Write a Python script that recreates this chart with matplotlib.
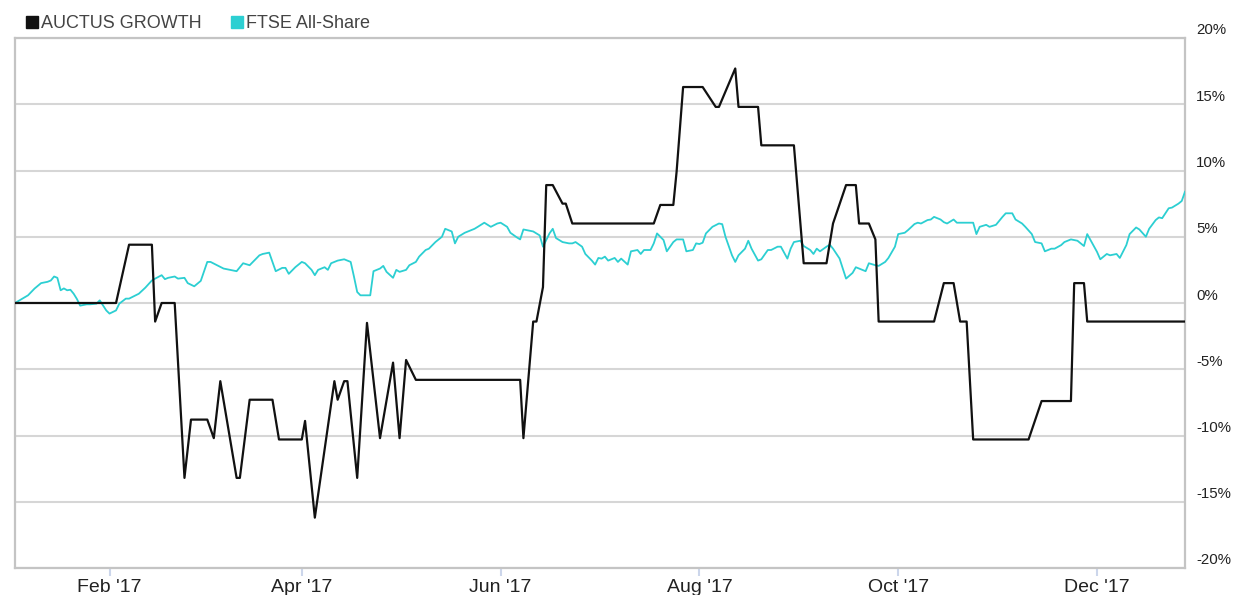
import matplotlib
matplotlib.use('Agg')
import matplotlib.pyplot as plt
import matplotlib.transforms as mtransforms
from matplotlib.lines import Line2D
import pandas as pd

# AUCTUS GROWTH, % change (turning points of the line)
auctus_dates = [
    '2017-01-03', '2017-02-03', '2017-02-07', '2017-02-14', '2017-02-15', '2017-02-17',
    '2017-02-21', '2017-02-24', '2017-02-26', '2017-03-03', '2017-03-05', '2017-03-07',
    '2017-03-12', '2017-03-13', '2017-03-16', '2017-03-23', '2017-03-25', '2017-04-01',
    '2017-04-02', '2017-04-05', '2017-04-11', '2017-04-12', '2017-04-14', '2017-04-15',
    '2017-04-18', '2017-04-21', '2017-04-25', '2017-04-29', '2017-05-01', '2017-05-03',
    '2017-05-06', '2017-06-07', '2017-06-08', '2017-06-11', '2017-06-12', '2017-06-14',
    '2017-06-15', '2017-06-17', '2017-06-20', '2017-06-21', '2017-06-23', '2017-07-18',
    '2017-07-20', '2017-07-24', '2017-07-25', '2017-07-27', '2017-08-02', '2017-08-06',
    '2017-08-07', '2017-08-12', '2017-08-13', '2017-08-19', '2017-08-20', '2017-08-30',
    '2017-09-02', '2017-09-09', '2017-09-11', '2017-09-15', '2017-09-18', '2017-09-19',
    '2017-09-22', '2017-09-24', '2017-09-25', '2017-10-12', '2017-10-15', '2017-10-18',
    '2017-10-20', '2017-10-22', '2017-10-24', '2017-11-10', '2017-11-14', '2017-11-23',
    '2017-11-24', '2017-11-27', '2017-11-28', '2017-12-28',
]
auctus_pct = [
    0.0, 0.0, 4.4, 4.4, -1.4, 0.0,
    0.0, -13.2, -8.8, -8.8, -10.2, -5.9,
    -13.2, -13.2, -7.3, -7.3, -10.3, -10.3,
    -8.9, -16.2, -5.9, -7.3, -5.9, -5.9,
    -13.2, -1.5, -10.2, -4.5, -10.2, -4.3,
    -5.8, -5.8, -10.2, -1.4, -1.4, 1.2,
    8.9, 8.9, 7.5, 7.5, 6.0, 6.0,
    7.4, 7.4, 9.9, 16.3, 16.3, 14.8,
    14.8, 17.7, 14.8, 14.8, 11.9, 11.9,
    3.0, 3.0, 6.0, 8.9, 8.9, 6.0,
    6.0, 4.8, -1.4, -1.4, 1.5, 1.5,
    -1.4, -1.4, -10.3, -10.3, -7.4, -7.4,
    1.5, 1.5, -1.4, -1.4,
]

# FTSE All-Share, % change
ftse_dates = [
    '2017-01-03', '2017-01-07', '2017-01-09', '2017-01-11', '2017-01-13', '2017-01-14',
    '2017-01-15', '2017-01-16', '2017-01-17', '2017-01-18', '2017-01-19', '2017-01-20',
    '2017-01-21', '2017-01-22', '2017-01-23', '2017-01-25', '2017-01-26', '2017-01-28',
    '2017-01-29', '2017-01-31', '2017-02-01', '2017-02-03', '2017-02-04', '2017-02-06',
    '2017-02-07', '2017-02-09', '2017-02-10', '2017-02-12', '2017-02-14', '2017-02-15',
    '2017-02-17', '2017-02-18', '2017-02-19', '2017-02-21', '2017-02-22', '2017-02-24',
    '2017-02-25', '2017-02-27', '2017-02-28', '2017-03-01', '2017-03-03', '2017-03-04',
    '2017-03-06', '2017-03-08', '2017-03-10', '2017-03-12', '2017-03-13', '2017-03-14',
    '2017-03-16', '2017-03-17', '2017-03-19', '2017-03-20', '2017-03-22', '2017-03-23',
    '2017-03-24', '2017-03-26', '2017-03-27', '2017-03-28', '2017-03-30', '2017-04-01',
    '2017-04-02', '2017-04-04', '2017-04-05', '2017-04-06', '2017-04-08', '2017-04-09',
    '2017-04-10', '2017-04-12', '2017-04-14', '2017-04-16', '2017-04-17', '2017-04-18',
    '2017-04-19', '2017-04-22', '2017-04-23', '2017-04-25', '2017-04-26', '2017-04-27',
    '2017-04-29', '2017-04-30', '2017-05-01', '2017-05-03', '2017-05-04', '2017-05-06',
    '2017-05-07', '2017-05-09', '2017-05-10', '2017-05-12', '2017-05-14', '2017-05-15',
    '2017-05-17', '2017-05-18', '2017-05-19', '2017-05-21', '2017-05-22', '2017-05-24',
    '2017-05-25', '2017-05-27', '2017-05-28', '2017-05-29', '2017-05-31', '2017-06-01',
    '2017-06-03', '2017-06-04', '2017-06-06', '2017-06-07', '2017-06-08', '2017-06-10',
    '2017-06-11', '2017-06-13', '2017-06-14', '2017-06-16', '2017-06-17', '2017-06-18',
    '2017-06-20', '2017-06-22', '2017-06-23', '2017-06-24', '2017-06-26', '2017-06-27',
    '2017-06-29', '2017-06-30', '2017-07-01', '2017-07-02', '2017-07-03', '2017-07-04',
    '2017-07-06', '2017-07-07', '2017-07-08', '2017-07-10', '2017-07-11', '2017-07-13',
    '2017-07-14', '2017-07-15', '2017-07-17', '2017-07-18', '2017-07-19', '2017-07-21',
    '2017-07-22', '2017-07-24', '2017-07-25', '2017-07-27', '2017-07-28', '2017-07-30',
    '2017-07-31', '2017-08-01', '2017-08-02', '2017-08-03', '2017-08-05', '2017-08-07',
    '2017-08-08', '2017-08-09', '2017-08-11', '2017-08-12', '2017-08-13', '2017-08-15',
    '2017-08-16', '2017-08-17', '2017-08-19', '2017-08-20', '2017-08-22', '2017-08-23',
    '2017-08-25', '2017-08-26', '2017-08-28', '2017-08-29', '2017-08-30', '2017-09-01',
    '2017-09-02', '2017-09-04', '2017-09-05', '2017-09-06', '2017-09-07', '2017-09-09',
    '2017-09-10', '2017-09-11', '2017-09-13', '2017-09-15', '2017-09-17', '2017-09-18',
    '2017-09-20', '2017-09-21', '2017-09-22', '2017-09-24', '2017-09-25', '2017-09-27',
    '2017-09-28', '2017-09-30', '2017-10-01', '2017-10-03', '2017-10-04', '2017-10-06',
    '2017-10-07', '2017-10-08', '2017-10-10', '2017-10-11', '2017-10-12', '2017-10-14',
    '2017-10-15', '2017-10-16', '2017-10-18', '2017-10-19', '2017-10-21', '2017-10-22',
    '2017-10-24', '2017-10-25', '2017-10-26', '2017-10-28', '2017-10-29', '2017-10-31',
    '2017-11-02', '2017-11-03', '2017-11-05', '2017-11-06', '2017-11-08', '2017-11-09',
    '2017-11-11', '2017-11-12', '2017-11-14', '2017-11-15', '2017-11-17', '2017-11-18',
    '2017-11-20', '2017-11-21', '2017-11-23', '2017-11-25', '2017-11-27', '2017-11-28',
    '2017-11-29', '2017-12-01', '2017-12-02', '2017-12-04', '2017-12-05', '2017-12-07',
    '2017-12-08', '2017-12-10', '2017-12-11', '2017-12-13', '2017-12-14', '2017-12-16',
    '2017-12-17', '2017-12-19', '2017-12-20', '2017-12-21', '2017-12-23', '2017-12-24',
    '2017-12-26', '2017-12-27', '2017-12-28',
]
ftse_pct = [
    0.0, 0.58, 1.09, 1.5, 1.6, 1.7,
    2.0, 1.9, 0.96, 1.1, 0.96, 1.0,
    0.7, 0.3, -0.2, -0.1, -0.1, -0.05,
    0.2, -0.56, -0.8, -0.56, -0.05, 0.33,
    0.33, 0.58, 0.7, 1.16, 1.7, 1.84,
    2.1, 1.8, 1.9, 2.0, 1.84, 1.9,
    1.5, 1.26, 1.46, 1.67, 3.1, 3.1,
    2.85, 2.6, 2.5, 2.4, 2.7, 3.0,
    2.85, 3.1, 3.6, 3.7, 3.8, 3.1,
    2.4, 2.65, 2.65, 2.2, 2.7, 3.1,
    3.0, 2.5, 2.1, 2.5, 2.7, 2.5,
    3.0, 3.2, 3.3, 3.1, 2.0, 0.83,
    0.58, 0.58, 2.4, 2.6, 2.8, 2.35,
    1.9, 2.5, 2.35, 2.5, 2.85, 3.1,
    3.5, 4.0, 4.1, 4.6, 5.0, 5.6,
    5.4, 4.5, 5.0, 5.3, 5.4, 5.6,
    5.75, 6.06, 5.9, 5.75, 6.0, 6.06,
    5.75, 5.3, 4.95, 4.8, 5.55, 5.45,
    5.4, 5.1, 4.25, 5.25, 5.6, 4.9,
    4.6, 4.5, 4.5, 4.6, 4.25, 3.7,
    3.2, 2.9, 3.4, 3.35, 3.5, 3.2,
    3.4, 3.1, 3.35, 2.9, 3.9, 4.0,
    3.7, 4.0, 4.0, 4.5, 5.25, 4.75,
    3.9, 4.6, 4.8, 4.8, 3.9, 4.0,
    4.5, 4.45, 4.55, 5.25, 5.75, 6.0,
    5.95, 5.0, 3.6, 3.1, 3.6, 4.1,
    4.7, 4.1, 3.2, 3.3, 4.0, 4.0,
    4.25, 4.25, 3.35, 4.1, 4.6, 4.7,
    4.3, 4.0, 3.7, 4.1, 3.9, 4.25,
    4.4, 4.1, 3.36, 1.84, 2.27, 2.7,
    2.5, 2.4, 3.0, 2.85, 2.8, 3.1,
    3.4, 4.25, 5.2, 5.3, 5.5, 5.96,
    6.06, 6.0, 6.26, 6.3, 6.5, 6.3,
    6.1, 6.0, 6.3, 6.06, 6.06, 6.06,
    6.06, 5.2, 5.75, 5.9, 5.75, 5.9,
    6.5, 6.77, 6.77, 6.3, 6.0, 5.75,
    5.2, 4.6, 4.5, 3.9, 4.1, 4.1,
    4.37, 4.6, 4.8, 4.7, 4.3, 5.2,
    4.75, 3.86, 3.3, 3.7, 3.6, 3.7,
    3.4, 4.37, 5.2, 5.7, 5.55, 5.0,
    5.6, 6.26, 6.46, 6.4, 7.15, 7.2,
    7.5, 7.7, 8.4,
]

month_ticks = ['2017-02-01', '2017-04-01', '2017-06-01', '2017-08-01', '2017-10-01', '2017-12-01']
month_labels = ["Feb '17", "Apr '17", "Jun '17", "Aug '17", "Oct '17", "Dec '17"]
pct_ticks = [-20, -15, -10, -5, 0, 5, 10, 15, 20]

plt.rcParams['font.family'] = ['Liberation Sans', 'DejaVu Sans']

W, H = 1234, 595
fig = plt.figure(figsize=(W / 100, H / 100), dpi=100)
ax = fig.add_axes([15 / W, 1 - 568 / H, (1185 - 15) / W, (568 - 38) / H])

ax.plot(pd.to_datetime(ftse_dates), ftse_pct, color='#2ccfd2', lw=1.3, zorder=3)
ax.plot(pd.to_datetime(auctus_dates), auctus_pct, color='#111111', lw=1.6, zorder=4)

ax.set_xlim(pd.Timestamp('2017-01-03'), pd.Timestamp('2017-12-28'))
ax.set_ylim(-20, 20)

# grid
ax.set_yticks(pct_ticks)
ax.grid(axis='y', color='#d6d6d6', lw=1.5)
ax.set_axisbelow(True)
for s in ax.spines.values():
    s.set_color('#c4c4c4')
    s.set_linewidth(1.6)

# y labels on the right, sitting a little above the gridlines
ax.yaxis.tick_right()
ax.set_yticklabels([f'{v}%' for v in pct_ticks])
ax.tick_params(axis='y', length=0, pad=8, labelsize=10.8, labelcolor='#222222')
shift = mtransforms.ScaledTranslation(0, 0.09, fig.dpi_scale_trans)
for lab in ax.get_yticklabels():
    lab.set_transform(lab.get_transform() + shift)

ax.set_xticks(pd.to_datetime(month_ticks))
ax.set_xticklabels(month_labels)
ax.tick_params(axis='x', length=6, width=1.5, color='#ccd6eb', pad=2,
               labelsize=14, labelcolor='#222222')

handles = [Line2D([], [], ls='none', marker='s', ms=9, color='#111111'),
           Line2D([], [], ls='none', marker='s', ms=9, color='#2ccfd2')]
fig.legend(handles, ['AUCTUS GROWTH', 'FTSE All-Share'], loc='center left',
           bbox_to_anchor=(26 / W, 1 - 24 / H), ncol=2, frameon=False,
           fontsize=13, handlelength=0.7, handletextpad=0.15, columnspacing=1.6,
           labelcolor='#444444', borderaxespad=0, borderpad=0)

fig.savefig('out.png', dpi=100)
